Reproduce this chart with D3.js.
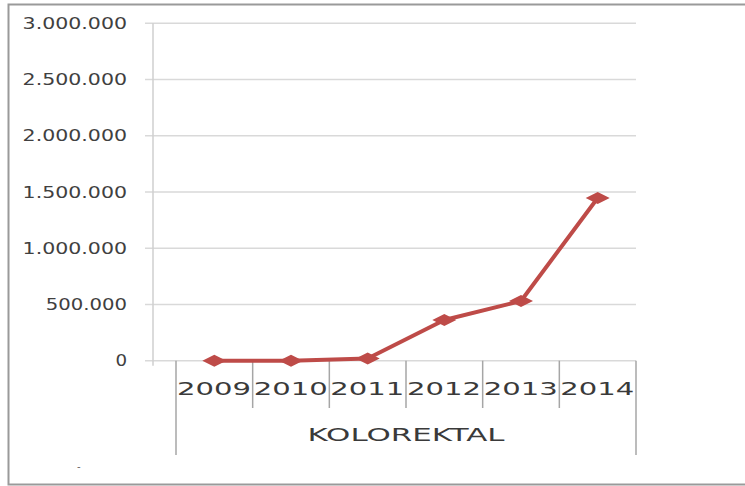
<!DOCTYPE html>
<html>
<head>
<meta charset="utf-8">
<script src="https://cdn.jsdelivr.net/npm/d3@7"></script>
<style>
  html, body { margin: 0; padding: 0; background: #fff; }
  svg { display: block; }
</style>
</head>
<body>
<svg id="chart"></svg>
<script>
// size
const width = 745;
const height = 486;

// data
const years = ["2009", "2010", "2011", "2012", "2013", "2014"];
const values = [0, 0, 20000, 362000, 531000, 1447000];
const yTicks = [0, 500000, 1000000, 1500000, 2000000, 2500000, 3000000];
const seriesName = "KOLOREKTAL";

// plot area
const plotLeft = 153;
const catLeft = 176;
const plotRight = 636;
const yTop = 23.3;
const yZero = 360.7;

const svg = d3.select("#chart")
    .attr("width", width)
    .attr("height", height);

// outer frame
svg.append("rect")
    .attr("x", 8.5)
    .attr("y", 4.5)
    .attr("width", 760)
    .attr("height", 480)
    .attr("fill", "none")
    .attr("stroke", "#9a9a9a")
    .attr("stroke-width", 2);

// scales
const xScale = d3.scaleBand()
    .domain(years)
    .range([catLeft, plotRight]);
const yScale = d3.scaleLinear()
    .domain([0, 3000000])
    .range([yZero, yTop]);

const fmt = d => d3.format(",")(d).replace(/,/g, ".");

// grid lines
svg.append("g")
    .selectAll("line")
    .data(yTicks)
    .enter()
    .append("line")
    .attr("x1", plotLeft - 8)
    .attr("x2", plotRight)
    .attr("y1", d => yScale(d))
    .attr("y2", d => yScale(d))
    .attr("stroke", "#d9d9d9")
    .attr("stroke-width", 1.5);

// y axis line
svg.append("line")
    .attr("x1", plotLeft)
    .attr("x2", plotLeft)
    .attr("y1", yTop)
    .attr("y2", yZero + 5)
    .attr("stroke", "#cfcfcf")
    .attr("stroke-width", 1.5);

// y tick labels
svg.append("g")
    .selectAll("text")
    .data(yTicks)
    .enter()
    .append("text")
    .attr("x", 127)
    .attr("y", d => yScale(d))
    .attr("dy", "0.37em")
    .attr("text-anchor", "end")
    .attr("font-family", "'DejaVu Sans', sans-serif")
    .attr("font-size", 15)
    .attr("fill", "#404040")
    .attr("textLength", d => fmt(d).length * 11.6)
    .attr("lengthAdjust", "spacingAndGlyphs")
    .text(d => fmt(d));

// category separators
const bounds = years.map(d => xScale(d)).concat([plotRight]);
svg.append("g")
    .selectAll("line")
    .data(bounds)
    .enter()
    .append("line")
    .attr("x1", d => d)
    .attr("x2", d => d)
    .attr("y1", yZero)
    .attr("y2", (d, i) => (i === 0 || i === bounds.length - 1) ? 455 : 408)
    .attr("stroke", "#a6a6a6")
    .attr("stroke-width", 1.5);

// year labels
svg.append("g")
    .selectAll("text")
    .data(years)
    .enter()
    .append("text")
    .attr("x", d => xScale(d) + 1)
    .attr("y", 388)
    .attr("dy", "0.37em")
    .attr("font-family", "'DejaVu Sans', sans-serif")
    .attr("font-size", 18)
    .attr("fill", "#3a3a3a")
    .attr("textLength", 74)
    .attr("lengthAdjust", "spacingAndGlyphs")
    .text(d => d);

// series label
svg.append("text")
    .attr("x", (catLeft + plotRight) / 2)
    .attr("y", 435)
    .attr("dy", "0.37em")
    .attr("text-anchor", "middle")
    .attr("font-family", "'DejaVu Sans', sans-serif")
    .attr("font-size", 17)
    .attr("fill", "#3a3a3a")
    .attr("textLength", 197)
    .attr("lengthAdjust", "spacingAndGlyphs")
    .text(seriesName);

// small mark bottom left
svg.append("text")
    .attr("x", 77)
    .attr("y", 470)
    .attr("font-family", "'DejaVu Sans', sans-serif")
    .attr("font-size", 10)
    .attr("fill", "#666")
    .text("-");

// line
const points = years.map((d, i) => ({ year: d, value: values[i] }));
const line = d3.line()
    .x(d => xScale(d.year) + xScale.bandwidth() / 2)
    .y(d => yScale(d.value));

svg.append("path")
    .datum(points)
    .attr("d", line)
    .attr("fill", "none")
    .attr("stroke", "#be4b48")
    .attr("stroke-width", 4)
    .attr("stroke-linejoin", "round");

// diamond markers
svg.append("g")
    .selectAll("path")
    .data(points)
    .enter()
    .append("path")
    .attr("transform", d => `translate(${xScale(d.year) + xScale.bandwidth() / 2},${yScale(d.value)})`)
    .attr("d", "M-12,0L0,-6L12,0L0,6Z")
    .attr("fill", "#be4b48");
</script>
</body>
</html>
